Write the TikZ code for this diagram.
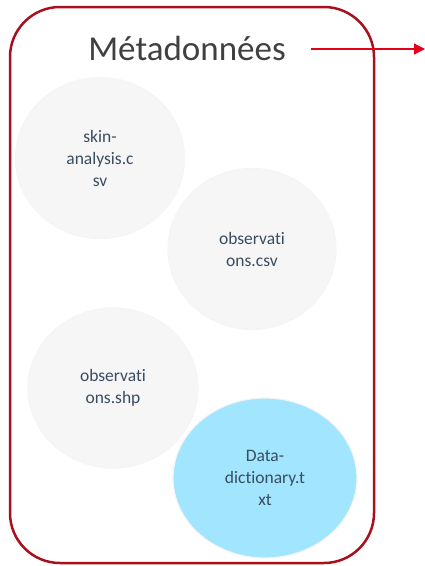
\documentclass[tikz,border=0pt]{standalone}
\usepackage{fontspec}
\setmainfont{Carlito}[Ligatures = NoCommon]
\usepackage{tikz}
\usetikzlibrary{shapes.geometric,arrows.meta}
\definecolor{frame}{HTML}{A8101E}
\definecolor{pale}{HTML}{F6F6F6}
\definecolor{sky}{HTML}{A1E5FF}
\definecolor{inktext}{HTML}{3A4C60}
\definecolor{arrowred}{HTML}{E5001A}
\tikzstyle{group} = [draw = frame, line width = 2.5pt, rounded corners = 50pt]
\tikzstyle{file} = [ellipse, draw = white!96!black, line width = 1.2pt, fill = pale, text = inktext, align = center, font = \fontsize{17.5}{22}\selectfont, inner sep = 0pt]
\tikzstyle{arrow} = [line width = 1.2pt, arrowred, -{Triangle[length=11pt,width=11pt]}]

\begin{document}
\begin{tikzpicture}[x = 1pt, y = -1pt]
\useasboundingbox (0,0) rectangle (425,566);

\draw [group] (10,7) rectangle (374,563);
\node(title) at (187,48) [text = black!75, font = \fontsize{35}{40}\selectfont] {Métadonnées};

\node(skin) at (100,158) [file, minimum width = 169pt, minimum height = 161pt] {skin-\\analysis.c\\sv};
\node(obscsv) at (252,249) [file, minimum width = 168pt, minimum height = 161pt] {observati\\ons.csv};
\node(obsshp) at (113,388) [file, minimum width = 170pt, minimum height = 160pt] {observati\\ons.shp};
\node(dict) at (265,478) [file, fill = sky, minimum width = 184pt, minimum height = 160pt] {Data-\\dictionary.t\\xt};

\coordinate(out) at (425,49);
\draw [arrow] ([xshift = 22pt]title.east |- out) -- (out);

\end{tikzpicture}
\end{document}
